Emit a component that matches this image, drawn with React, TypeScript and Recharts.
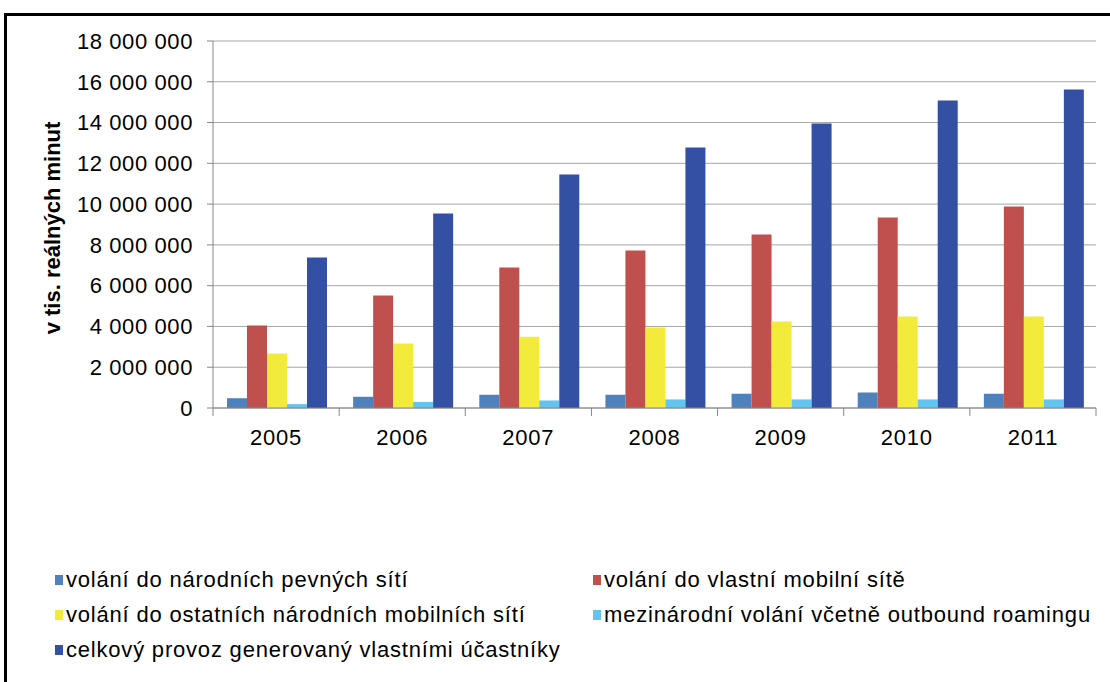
import React from 'react';
import { BarChart, Bar, XAxis, YAxis, CartesianGrid } from 'recharts';

const years = ['2005', '2006', '2007', '2008', '2009', '2010', '2011'];

// v tis. reálných minut
const pevne = [480000, 550000, 650000, 650000, 700000, 760000, 700000];
const vlastniMobilni = [4050000, 5520000, 6890000, 7720000, 8510000, 9340000, 9880000];
const ostatniMobilni = [2670000, 3160000, 3500000, 3950000, 4240000, 4490000, 4490000];
const mezinarodni = [190000, 300000, 370000, 420000, 420000, 420000, 420000];
const celkovy = [7380000, 9540000, 11450000, 12780000, 13950000, 15080000, 15620000];

const yTicks = [0, 2000000, 4000000, 6000000, 8000000, 10000000, 12000000, 14000000, 16000000, 18000000];

const SERIES = [
  { key: 'pevne', name: 'volání do národních pevných sítí', color: '#4F81BD' },
  { key: 'vlastniMobilni', name: 'volání do vlastní mobilní sítě', color: '#C0504D' },
  { key: 'ostatniMobilni', name: 'volání do ostatních národních mobilních sítí', color: '#F2EB3C' },
  { key: 'mezinarodni', name: 'mezinárodní volání včetně outbound roamingu', color: '#62C4F0' },
  { key: 'celkovy', name: 'celkový provoz generovaný vlastními účastníky', color: '#3350A4' },
];

const data = years.map((y, i) => ({
  year: y,
  pevne: pevne[i],
  vlastniMobilni: vlastniMobilni[i],
  ostatniMobilni: ostatniMobilni[i],
  mezinarodni: mezinarodni[i],
  celkovy: celkovy[i],
}));

const W = 1110;
const H = 682;
const LEFT = 213;
const RIGHT = 14;
const HALF_BAND = (W - LEFT - RIGHT) / years.length / 2;
const FONT = '"Liberation Sans", Arial, sans-serif';
const AXIS = '#868686';

const fmt = (v: number) => String(v).replace(/\B(?=(\d{3})+(?!\d))/g, ' ');

const XTick = (props: any) => {
  const { x, y, payload, index } = props;
  return (
    <g>
      <line x1={x - HALF_BAND} x2={x - HALF_BAND} y1={y - 8} y2={y} stroke={AXIS} />
      {index === years.length - 1 && (
        <line x1={x + HALF_BAND} x2={x + HALF_BAND} y1={y - 8} y2={y} stroke={AXIS} />
      )}
      <text x={x} y={y + 29} textAnchor="middle" fill="#000" fontSize={22} letterSpacing={0.8} fontFamily={FONT}>
        {payload.value}
      </text>
    </g>
  );
};

const legendRows = [
  [SERIES[0], SERIES[1]],
  [SERIES[2], SERIES[3]],
  [SERIES[4]],
];

export default function App() {
  return (
    <div style={{ position: 'absolute', left: 0, top: 0, width: W, height: H, background: '#fff', overflow: 'hidden', fontFamily: FONT }}>
      <div style={{ position: 'absolute', left: 4, top: 13, width: W, height: H, borderTop: '3px solid #000', borderLeft: '3px solid #000' }} />
      <BarChart
        width={W}
        height={H}
        data={data}
        margin={{ top: 41, right: RIGHT, left: 0, bottom: 214 }}
        barCategoryGap={14}
        barGap={0}
      >
        <CartesianGrid horizontal vertical={false} stroke="#A6A6A6" />
        <XAxis
          dataKey="year"
          height={60}
          stroke={AXIS}
          tickLine={false}
          tickSize={8}
          tickMargin={0}
          tick={<XTick />}
          interval={0}
        />
        <YAxis
          width={LEFT}
          domain={[0, 18000000]}
          ticks={yTicks}
          interval={0}
          stroke={AXIS}
          tickSize={6}
          tickMargin={14}
          tickFormatter={fmt}
          tick={{ fill: '#000', fontSize: 22, fontFamily: FONT, letterSpacing: 0.6 }}
          label={{
            content: () => (
              <text
                x={60}
                y={228}
                transform="rotate(-90 60 228)"
                textAnchor="middle"
                fontSize={22}
                fontWeight="bold"
                fontFamily={FONT}
                fill="#000"
              >
                v tis. reálných minut
              </text>
            ),
          }}
        />
        {SERIES.map((s) => (
          <Bar key={s.key} dataKey={s.key} name={s.name} fill={s.color} isAnimationActive={false} />
        ))}
      </BarChart>
      {legendRows.map((row, r) => (
        <div key={r}>
          {row.map((s, c) => (
            <div
              key={s.key}
              style={{
                position: 'absolute',
                left: c === 0 ? 55 : 593,
                top: 565 + r * 35,
                height: 30,
                display: 'flex',
                alignItems: 'center',
                whiteSpace: 'nowrap',
                fontSize: 22,
                letterSpacing: 0.8,
                color: '#000',
              }}
            >
              <span style={{ display: 'inline-block', width: 8, height: 10, background: s.color, marginRight: 3 }} />
              {s.name}
            </div>
          ))}
        </div>
      ))}
    </div>
  );
}
